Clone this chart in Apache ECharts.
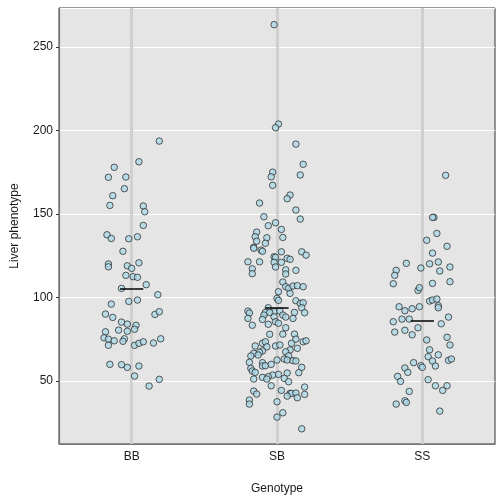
<!DOCTYPE html>
<html><head><meta charset="utf-8">
<script src="https://cdn.jsdelivr.net/npm/echarts@6/dist/echarts.min.js"></script>
<style>html,body{margin:0;padding:0;background:#fff}#c{width:504px;height:504px}</style>
</head><body><div id="c"></div>
<script>
const categories = ['BB', 'SB', 'SS'];

const bbOffsets = [
  0.19,0.05,-0.12,-0.16,-0.04,-0.05,-0.13,-0.15,0.08,0.09,
  0.08,-0.17,-0.14,-0.02,0.04,-0.06,-0.16,-0.16,-0.03,0.00,
  0.05,-0.04,0.01,0.04,0.10,-0.07,0.18,-0.14,-0.02,0.04,
  -0.18,-0.13,0.16,0.19,-0.07,-0.03,0.03,0.02,-0.09,-0.03,
  -0.18,-0.19,-0.16,-0.12,-0.05,-0.06,-0.16,0.02,0.05,0.08,
  0.15,0.20,-0.15,-0.07,-0.03,0.05,0.02,0.19,0.12];
const bbValues = [
  193.7,181.3,178.0,172.0,172.2,165.2,161.0,155.2,154.8,151.4,
  143.2,137.6,135.4,135.2,136.4,127.7,120.1,118.4,119.0,117.5,
  120.8,113.3,112.5,112.1,107.7,105.5,101.7,96.1,97.7,98.5,
  90.1,88.1,89.9,91.5,85.3,84.1,83.4,81.0,80.5,79.8,
  79.5,75.9,75.1,74.1,75.3,73.8,71.4,71.4,72.6,73.5,
  72.8,75.3,60.0,59.8,58.2,59.0,53.0,51.0,47.0];

const sbOffsets = [
  -0.02,0.01,-0.01,0.13,0.18,-0.03,-0.04,0.16,-0.03,0.09,
  0.07,-0.12,0.13,-0.09,0.16,-0.01,-0.06,0.03,-0.14,-0.15,
  -0.14,-0.07,-0.08,0.04,-0.16,-0.16,-0.11,-0.10,0.03,0.17,
  0.20,-0.02,-0.01,0.07,0.09,-0.20,-0.12,-0.02,0.03,-0.01,
  -0.17,-0.17,0.06,0.06,0.13,0.04,0.06,0.08,0.11,0.14,
  0.18,0.09,0.01,0.00,0.01,0.13,0.16,0.18,0.17,0.19,
  0.12,-0.06,-0.20,-0.19,-0.08,-0.02,0.02,-0.05,-0.09,0.04,
  0.06,-0.20,-0.10,-0.02,0.11,-0.01,0.01,-0.06,-0.17,0.06,
  -0.05,0.04,0.12,-0.15,-0.10,-0.08,-0.07,-0.01,0.02,0.10,
  0.13,0.18,0.20,0.14,0.09,0.06,-0.10,-0.12,-0.16,-0.13,
  -0.18,0.08,0.05,0.07,0.11,0.13,0.00,-0.19,-0.10,-0.10,
  -0.08,-0.04,0.17,-0.18,-0.17,-0.15,0.15,0.07,0.01,-0.03,
  -0.06,-0.10,-0.16,-0.07,0.05,0.08,-0.04,0.19,0.03,-0.16,
  -0.14,0.09,0.10,0.13,0.19,0.07,0.14,-0.19,-0.19,0.00,
  0.04,0.00,0.17];
const sbValues = [
  263.4,203.9,201.7,191.9,179.8,175.1,172.3,173.4,167.2,161.4,
  159.2,156.6,152.4,148.4,147.0,144.8,143.0,140.8,139.2,136.4,
  133.8,135.8,132.5,136.0,130.1,129.5,128.4,127.7,127.4,127.4,
  125.4,124.4,124.1,123.5,122.9,121.4,121.4,121.1,121.1,118.3,
  117.2,114.3,116.6,114.1,116.3,109.3,106.5,105.5,106.9,107.1,
  106.5,102.5,103.5,99.5,98.3,98.1,96.5,96.9,93.9,90.9,
  91.1,93.9,91.9,90.7,91.1,91.5,91.9,91.1,89.5,89.5,
  88.3,87.5,86.9,88.5,87.5,85.5,84.6,84.0,83.4,81.9,
  78.0,78.1,78.1,71.0,72.6,73.5,70.5,71.0,71.6,72.6,
  75.1,73.5,74.1,69.6,68.6,67.5,68.0,67.2,66.6,65.6,
  65.0,65.1,63.2,62.6,62.2,62.0,62.6,61.2,61.0,59.0,
  59.2,60.0,58.2,57.6,56.0,55.2,55.0,54.8,54.0,53.6,
  52.6,52.2,51.2,51.2,51.6,49.6,47.2,46.4,44.4,44.0,
  42.2,42.6,42.6,42.8,42.0,41.0,40.0,38.6,36.2,37.6,
  31.0,28.4,21.4];

const ssOffsets = [
  0.16,0.08,0.07,0.10,0.03,0.17,0.07,-0.11,0.05,0.11,
  -0.01,0.19,-0.18,-0.19,0.12,-0.20,0.07,0.19,-0.03,-0.02,
  0.05,0.07,0.10,0.11,0.11,-0.16,-0.12,-0.07,-0.02,-0.20,
  -0.14,-0.09,0.18,0.13,-0.19,-0.12,-0.03,-0.07,0.17,0.03,
  0.19,0.05,0.11,0.04,0.07,0.18,0.20,-0.06,-0.01,0.00,
  0.09,-0.12,-0.10,-0.17,-0.15,0.04,0.09,0.17,0.14,-0.09,
  -0.12,-0.11,-0.18,0.12];
const ssValues = [
  173.2,148.0,148.0,138.4,134.3,130.7,126.6,120.5,120.2,121.3,
  117.7,118.3,116.3,113.3,115.9,108.3,108.5,109.5,104.3,105.9,
  97.9,98.5,99.1,95.1,93.9,94.5,92.1,93.3,94.5,85.5,
  87.1,87.1,88.3,84.3,79.3,80.4,81.9,77.7,76.2,74.6,
  71.6,68.7,65.7,64.6,62.0,62.4,63.2,61.0,59.2,58.2,
  59.0,57.8,55.2,52.8,49.8,50.8,47.2,47.2,44.4,43.8,
  38.2,37.2,36.2,32.0];

const medians = [105.5, 93.9, 86.3];
const medianHalfWidth = 0.08;
const yMin = 12.3, yMax = 273.4;

function points(catIndex, offsets, values) {
  const n = Math.min(offsets.length, values.length);
  const out = [];
  for (let i = 0; i < n; i++) out.push([catIndex + 1 + offsets[i], values[i]]);
  return out;
}

const pointStyle = { color: '#add8e6', borderColor: '#1f1f1f', borderWidth: 0.9 };
const groups = [[bbOffsets, bbValues], [sbOffsets, sbValues], [ssOffsets, ssValues]];

const chart = echarts.init(document.getElementById('c'), null, { renderer: 'canvas' });
const series = [
  {
    type: 'scatter', xAxisIndex: 0, data: [], z: 1, silent: true,
    markLine: {
      silent: true, symbol: 'none', label: { show: false }, z: 1,
      lineStyle: { color: '#d0d0d0', width: 3, type: 'solid' },
      data: categories.map((c, i) => ({ xAxis: i + 1 }))
    }
  }
];
groups.forEach((g, i) => {
  series.push({
    type: 'scatter', xAxisIndex: 0, name: categories[i],
    data: points(i, g[0], g[1]),
    symbol: 'circle', symbolSize: 6.5, itemStyle: pointStyle, z: 3, silent: true
  });
});
series.push({
  type: 'scatter', xAxisIndex: 0, data: [], z: 6, silent: true,
  markLine: {
    silent: true, symbol: 'none', label: { show: false }, z: 6,
    lineStyle: { color: '#000', width: 1.5, type: 'solid' },
    data: medians.map((m, i) => [
      { coord: [i + 1 - medianHalfWidth, m] },
      { coord: [i + 1 + medianHalfWidth, m] }
    ])
  }
});

chart.setOption({
  animation: false,
  backgroundColor: '#ffffff',
  grid: {
    left: 59, right: 9, top: 8, bottom: 60, show: true,
    backgroundColor: '#e5e5e5', borderColor: '#333333', borderWidth: 1
  },
  xAxis: [
    { type: 'value', min: 0.5, max: 3.5, show: false },
    {
      type: 'category', data: categories, boundaryGap: true, position: 'bottom',
      axisLine: { show: true, lineStyle: { color: '#777777', width: 1.2 } },
      axisTick: { show: false },
      splitLine: { show: false },
      axisLabel: { color: '#1a1a1a', fontSize: 12, margin: 7, fontFamily: 'Liberation Sans' },
      name: 'Genotype', nameLocation: 'middle', nameGap: 39,
      nameTextStyle: { color: '#1a1a1a', fontSize: 12, fontFamily: 'Liberation Sans' }
    }
  ],
  yAxis: {
    type: 'value', min: yMin, max: yMax, splitNumber: 5,
    axisLine: { show: true, lineStyle: { color: '#777777', width: 1.2 } },
    axisTick: { show: true, length: 3, lineStyle: { color: '#333333' } },
    splitLine: { show: true, lineStyle: { color: '#ffffff', width: 1 } },
    axisLabel: {
      color: '#1a1a1a', fontSize: 12, margin: 6, fontFamily: 'Liberation Sans',
      showMinLabel: false, showMaxLabel: false
    },
    name: 'Liver phenotype', nameLocation: 'middle', nameGap: 38,
    nameTextStyle: { color: '#1a1a1a', fontSize: 12, fontFamily: 'Liberation Sans' }
  },
  series: series
});
</script>
</body></html>
